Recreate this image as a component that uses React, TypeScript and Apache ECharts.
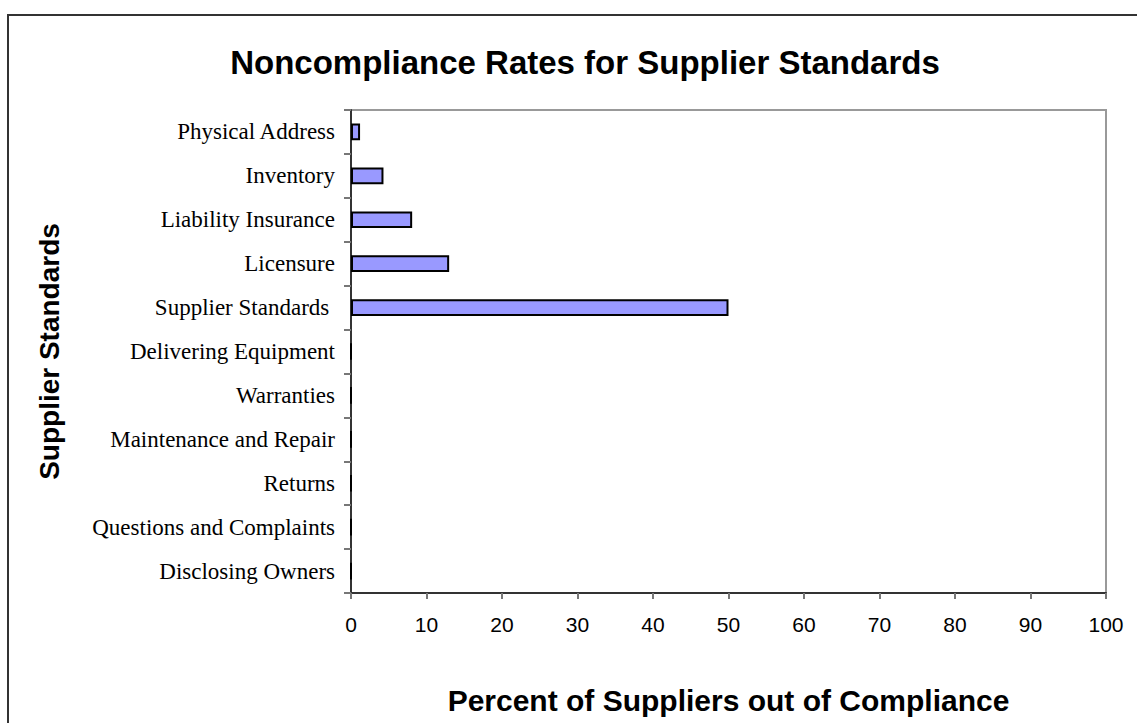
import React, { useEffect, useRef } from "react";
import * as echarts from "echarts";

const categories = [
  "Disclosing Owners",
  "Questions and Complaints",
  "Returns",
  "Maintenance and Repair",
  "Warranties",
  "Delivering Equipment",
  "Supplier Standards\u00a0",
  "Licensure",
  "Liability Insurance",
  "Inventory",
  "Physical Address",
];
const values = [0, 0, 0, 0, 0, 0, 50, 13, 8.1, 4.3, 1.2];
const xTicks = { min: 0, max: 100, interval: 10 };

export default function App() {
  const ref = useRef<HTMLDivElement>(null);
  useEffect(() => {
    const chart = echarts.init(ref.current!, undefined, { renderer: "svg" });
    chart.setOption({
      animation: false,
      backgroundColor: "#ffffff",
      title: {
        text: "Noncompliance Rates for Supplier Standards",
        left: 580,
        textAlign: "center",
        top: 41,
        textStyle: {
          fontFamily: "Liberation Sans, Arial, sans-serif",
          fontWeight: "bold",
          fontSize: 33,
          color: "#000",
        },
      },
      graphic: [
        {
          type: "rect",
          shape: { x: 8, y: 15, width: 1300, height: 900 },
          style: { fill: "none", stroke: "#333", lineWidth: 2 },
          silent: true,
        },
      ],
      grid: {
        left: 351,
        top: 110,
        right: 31,
        bottom: 130,
        show: true,
        borderColor: "#999",
        borderWidth: 2,
        backgroundColor: "transparent",
      },
      xAxis: {
        type: "value",
        min: xTicks.min,
        max: xTicks.max,
        interval: xTicks.interval,
        name: "Percent of Suppliers out of Compliance",
        nameLocation: "middle",
        nameGap: 92,
        nameTextStyle: {
          fontFamily: "Liberation Sans, Arial, sans-serif",
          fontWeight: "bold",
          fontSize: 30,
          color: "#000",
        },
        splitLine: { show: false },
        axisLine: { show: true, lineStyle: { color: "#333", width: 2 } },
        axisTick: { show: true, length: 6, lineStyle: { color: "#777", width: 2 } },
        axisLabel: {
          fontFamily: "Liberation Sans, Arial, sans-serif",
          fontSize: 21,
          color: "#000",
          margin: 21,
        },
      },
      yAxis: {
        type: "category",
        data: categories,
        name: "Supplier Standards",
        nameLocation: "middle",
        nameGap: 288,
        nameRotate: 90,
        nameTextStyle: {
          fontFamily: "Liberation Sans, Arial, sans-serif",
          fontWeight: "bold",
          fontSize: 28,
          color: "#000",
        },
        axisLine: { show: true, lineStyle: { color: "#333", width: 2 } },
        axisTick: { show: true, length: 7, lineStyle: { color: "#777", width: 2 } },
        axisLabel: {
          fontFamily: "Liberation Serif, Times New Roman, serif",
          fontSize: 23,
          color: "#000",
          margin: 16,
        },
      },
      series: [
        {
          type: "bar",
          data: values,
          barWidth: "38%",
          itemStyle: { color: "#9999FF", borderColor: "#000", borderWidth: 2 },
        },
      ],
    });
    return () => chart.dispose();
  }, []);
  return (
    <div
      ref={ref}
      style={{ position: "absolute", left: 0, top: 0, width: 1137, height: 723 }}
    />
  );
}
